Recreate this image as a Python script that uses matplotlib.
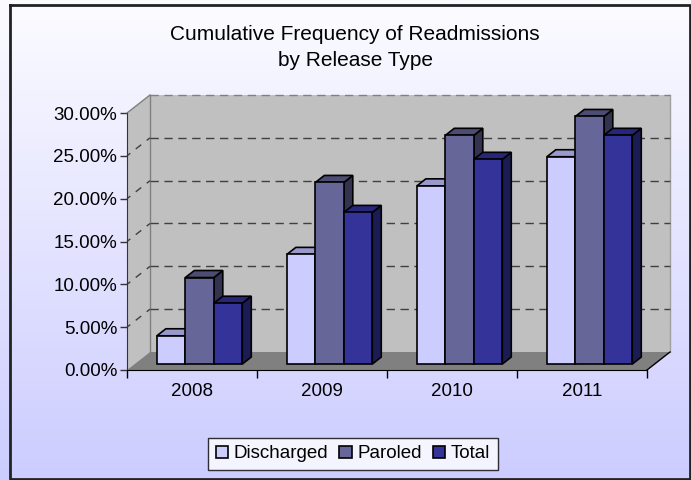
import matplotlib
matplotlib.use('Agg')
import matplotlib.pyplot as plt
import numpy as np
from matplotlib.patches import Polygon, Rectangle, Patch

plt.rcParams['font.family'] = ['Liberation Sans', 'DejaVu Sans']

years = ['2008', '2009', '2010', '2011']
series = ['Discharged', 'Paroled', 'Total']
discharged = [0.033, 0.128, 0.208, 0.242]
paroled = [0.101, 0.212, 0.267, 0.289]
total = [0.071, 0.177, 0.239, 0.267]
values = [discharged, paroled, total]
y_ticks = [0.0, 0.05, 0.10, 0.15, 0.20, 0.25, 0.30]

# face colours: front, top, side
front_c = ['#CCCCFF', '#666699', '#333399']
top_c = ['#9999CC', '#4D4D73', '#26267A']
side_c = ['#8080AA', '#333350', '#1C1C55']

W, H = 691, 480
fig = plt.figure(figsize=(W / 100, H / 100), dpi=100)

# background gradient
bg = fig.add_axes([0, 0, 1, 1])
grad = np.linspace(0, 1, 256).reshape(-1, 1)
c_top = np.array([252, 252, 255]) / 255
c_bot = np.array([204, 204, 255]) / 255
img = c_top + (c_bot - c_top) * grad[:, :, None]
bg.imshow(img, aspect='auto', extent=[0, W, H, 0])
bg.set_xlim(0, W)
bg.set_ylim(H, 0)
bg.plot([10, 10, 690, 690, 10], [5, 478.5, 478.5, 5, 5], color='#222222', lw=2)
bg.axis('off')

# front plane of the 3d box, in pixels
left, right, bottom, top = 127, 647, 370, 113
ax = fig.add_axes([left / W, 1 - bottom / H, (right - left) / W, (bottom - top) / H])
ax.set_xlim(0, 4)
ax.set_ylim(0, 0.30)
ax.patch.set_alpha(0)

# depth of box converted to data units
DX = 23 * 4 / (right - left)
DY = 18 * 0.30 / (bottom - top)
ymax = 0.30

# side wall, back wall, floor
ax.add_patch(Polygon([(0, 0), (DX, DY), (DX, ymax + DY), (0, ymax)],
                     closed=True, fc='#C0C0C0', ec='none', clip_on=False, zorder=1))
ax.add_patch(Rectangle((DX, DY), 4, ymax, fc='#C0C0C0', ec='none', clip_on=False, zorder=1))
ax.add_patch(Polygon([(0, 0), (4, 0), (4 + DX, DY), (DX, DY)],
                     closed=True, fc='#808080', ec='none', clip_on=False, zorder=2))
ax.plot([DX, DX], [DY, ymax + DY], color='#808080', lw=1, clip_on=False, zorder=2)
ax.plot([4 + DX, 4 + DX], [DY, ymax + DY], color='#A0A0A0', lw=1, clip_on=False, zorder=2)
ax.plot([0, DX], [ymax, ymax + DY], color='#808080', lw=1, clip_on=False, zorder=2)
ax.plot([4, 4 + DX], [0, DY], color='black', lw=1, clip_on=False, zorder=2)

# gridlines on back and side walls
for v in y_ticks[1:]:
    gc = '#404040' if v < ymax else '#808080'
    ax.plot([DX, 4 + DX], [v + DY, v + DY], color=gc, lw=1,
            ls=(0, (6, 4)), clip_on=False, zorder=2)
    if v < ymax:
        ax.plot([0, DX], [v, v + DY], color='#404040', lw=1,
                ls=(2, (5, 5)), clip_on=False, zorder=2)

# 3d bars
bw = 0.219
gap = (1 - 3 * bw) / 2
f1, f2 = 0.33, 0.72
ox1, oy1 = f1 * DX, f1 * DY
ox2, oy2 = f2 * DX, f2 * DY
z = 3
for i in range(len(years)):
    for j in range(len(series)):
        v = values[j][i]
        x0 = i + gap + j * bw
        x1 = x0 + bw
        ax.add_patch(Polygon([(x1 + ox1, oy1), (x1 + ox2, oy2), (x1 + ox2, v + oy2), (x1 + ox1, v + oy1)],
                             closed=True, fc=side_c[j], ec='black', lw=1.2, clip_on=False, zorder=z))
        ax.add_patch(Polygon([(x0 + ox1, v + oy1), (x1 + ox1, v + oy1), (x1 + ox2, v + oy2), (x0 + ox2, v + oy2)],
                             closed=True, fc=top_c[j], ec='black', lw=1.2, clip_on=False, zorder=z))
        ax.add_patch(Rectangle((x0 + ox1, oy1), bw, v, fc=front_c[j], ec='black',
                               lw=1.2, clip_on=False, zorder=z))
        z += 1

# axes
for s in ['top', 'right']:
    ax.spines[s].set_visible(False)
ax.spines['left'].set_color('#333333')
ax.spines['bottom'].set_color('black')
ax.spines['left'].set_zorder(20)
ax.spines['bottom'].set_zorder(20)
ax.set_yticks(y_ticks)
ax.set_yticklabels(['%.2f%%' % (t * 100) for t in y_ticks], fontsize=13.5)
ax.set_xticks([0, 1, 2, 3, 4])
ax.set_xticklabels([])
ax.set_xticks([0.5, 1.5, 2.5, 3.5], minor=True)
ax.set_xticklabels(years, minor=True, fontsize=13.5)
ax.tick_params(axis='y', length=5, width=1, color='#333333', pad=2)
ax.tick_params(axis='x', which='major', length=6, width=1, color='black')
ax.tick_params(axis='x', which='minor', length=0, pad=9)

fig.text(355 / W, 1 - 47.5 / H, 'Cumulative Frequency of Readmissions\nby Release Type',
         ha='center', va='center', fontsize=15, linespacing=1.5)

handles = [Patch(fc=front_c[j], ec='black', lw=1.2, label=series[j]) for j in range(3)]
leg = fig.legend(handles=handles, loc='center', bbox_to_anchor=(353 / W, 1 - 454 / H),
                 ncol=3, fontsize=13.5, frameon=True, fancybox=False, edgecolor='black',
                 handlelength=0.65, handleheight=0.65, handletextpad=0.3, columnspacing=0.6,
                 borderpad=0.4, borderaxespad=0)
leg.get_frame().set_linewidth(1)

fig.savefig('out.png', dpi=100)
